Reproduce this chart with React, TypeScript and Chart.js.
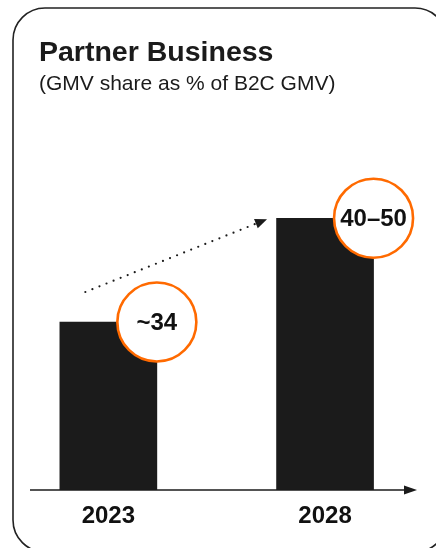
import React, { useEffect, useRef } from "react";
import { Chart, registerables } from "chart.js";

Chart.register(...registerables);

const categories = ["2023", "2028"];
const barValues = [34, 55];
const bubbleLabels = ["~34", "40–50"];
const titleText = "Partner Business";
const subtitleText = "(GMV share as % of B2C GMV)";

const FONT = "'Liberation Sans', Arial, Helvetica, sans-serif";
const INK = "#1b1b1b";
const ORANGE = "#ff6a00";

const decorPlugin = {
  id: "decor",
  beforeDraw(chart: any) {
    const ctx = chart.ctx as CanvasRenderingContext2D;
    ctx.save();
    ctx.fillStyle = "#ffffff";
    ctx.fillRect(0, 0, chart.width, chart.height);
    // card border
    const x0 = 13, y0 = 8, x1 = 447, y1 = 552, r = 32;
    ctx.beginPath();
    ctx.moveTo(x0 + r, y0);
    ctx.lineTo(x1 - r, y0);
    ctx.arcTo(x1, y0, x1, y0 + r, r);
    ctx.lineTo(x1, y1 - r);
    ctx.arcTo(x1, y1, x1 - r, y1, r);
    ctx.lineTo(x0 + r, y1);
    ctx.arcTo(x0, y1, x0, y1 - r, r);
    ctx.lineTo(x0, y0 + r);
    ctx.arcTo(x0, y0, x0 + r, y0, r);
    ctx.closePath();
    ctx.strokeStyle = "#222";
    ctx.lineWidth = 1.6;
    ctx.stroke();
    // title
    ctx.fillStyle = INK;
    ctx.textAlign = "left";
    ctx.textBaseline = "alphabetic";
    ctx.font = `bold 28.5px ${FONT}`;
    ctx.fillText(titleText, 39, 61);
    ctx.font = `21px ${FONT}`;
    ctx.fillText(subtitleText, 39, 90);
    ctx.restore();
  },
  afterDatasetsDraw(chart: any) {
    const ctx = chart.ctx as CanvasRenderingContext2D;
    const meta = chart.getDatasetMeta(0);
    const area = chart.chartArea;
    ctx.save();
    // x axis line with arrow
    const ay = area.bottom;
    ctx.strokeStyle = INK;
    ctx.fillStyle = INK;
    ctx.lineWidth = 1.6;
    ctx.beginPath();
    ctx.moveTo(30, ay);
    ctx.lineTo(406, ay);
    ctx.stroke();
    ctx.beginPath();
    ctx.moveTo(417, ay);
    ctx.lineTo(404, ay - 4.5);
    ctx.lineTo(404, ay + 4.5);
    ctx.closePath();
    ctx.fill();

    const b0 = meta.data[0];
    const b1 = meta.data[1];
    // dotted trend arrow
    const sx = b0.x - 23, sy = b0.y - 30;
    const ex = b1.x - 58, ey = b1.y + 1;
    const ang = Math.atan2(ey - sy, ex - sx);
    const hl = 12, hw = 5;
    const bx = ex - hl * Math.cos(ang), by = ey - hl * Math.sin(ang);
    ctx.beginPath();
    ctx.setLineDash([0, 7.6]);
    ctx.lineCap = "round";
    ctx.lineWidth = 2.2;
    ctx.moveTo(sx, sy);
    ctx.lineTo(bx, by);
    ctx.stroke();
    ctx.setLineDash([]);
    ctx.beginPath();
    ctx.moveTo(ex, ey);
    ctx.lineTo(bx + hw * Math.sin(ang), by - hw * Math.cos(ang));
    ctx.lineTo(bx - hw * Math.sin(ang), by + hw * Math.cos(ang));
    ctx.closePath();
    ctx.fill();

    // value bubbles
    meta.data.forEach((bar: any, i: number) => {
      const cx = bar.x + bar.width / 2;
      const cy = bar.y;
      ctx.beginPath();
      ctx.arc(cx, cy, 39.5, 0, Math.PI * 2);
      ctx.fillStyle = "#ffffff";
      ctx.fill();
      ctx.lineWidth = 2.6;
      ctx.strokeStyle = ORANGE;
      ctx.stroke();
      ctx.fillStyle = "#111";
      ctx.font = `bold 24px ${FONT}`;
      ctx.textAlign = "center";
      ctx.textBaseline = "middle";
      ctx.fillText(bubbleLabels[i], cx, cy + 1);
    });
    ctx.restore();
  },
};

export default function App() {
  const ref = useRef<HTMLCanvasElement | null>(null);
  useEffect(() => {
    if (!ref.current) return;
    const chart = new Chart(ref.current, {
      type: "bar",
      data: {
        labels: categories,
        datasets: [
          {
            data: barValues,
            backgroundColor: INK,
            borderWidth: 0,
            barThickness: 97,
          },
        ],
      },
      options: {
        responsive: false,
        animation: false,
        devicePixelRatio: 1,
        layout: { padding: { top: 193.5, left: 0, right: 2.6, bottom: 5.2 } },
        plugins: {
          legend: { display: false },
          tooltip: { enabled: false },
          title: { display: false },
        },
        scales: {
          x: {
            grid: { display: false, drawTicks: false },
            border: { display: false },
            ticks: {
              color: "#111",
              padding: 12,
              font: { family: FONT, size: 24, weight: "bold" },
            },
          },
          y: {
            display: false,
            min: 0,
            max: 60,
          },
        },
      },
      plugins: [decorPlugin],
    });
    return () => chart.destroy();
  }, []);
  return (
    <div style={{ position: "fixed", left: 0, top: 0, width: 436, height: 548 }}>
      <canvas ref={ref} width={436} height={548} style={{ display: "block" }} />
    </div>
  );
}
